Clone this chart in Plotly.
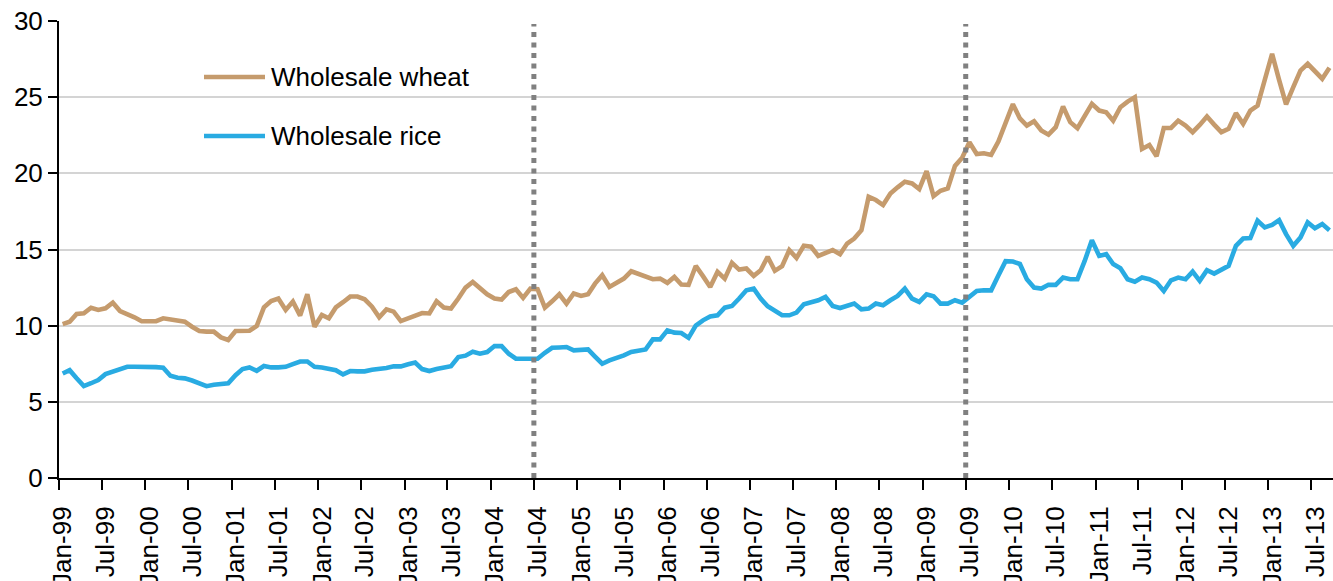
import pandas as pd
import plotly.graph_objects as go

# Monthly series, Jan-1999 .. Sep-2013
wheat = [
    10.10, 10.26, 10.77, 10.81, 11.18, 11.03, 11.14, 11.51, 10.96, 10.77, 10.55, 10.29,
    10.29, 10.30, 10.48, 10.42, 10.37, 10.26, 9.93, 9.65, 9.61, 9.61, 9.23, 9.06,
    9.65, 9.67, 9.67, 9.98, 11.20, 11.62, 11.78, 11.03, 11.58, 10.66, 12.06, 9.93,
    10.70, 10.48, 11.20, 11.54, 11.91, 11.91, 11.73, 11.25, 10.55, 11.07, 10.92, 10.30,
    10.47, 10.66, 10.83, 10.80, 11.60, 11.19, 11.13, 11.78, 12.50, 12.87, 12.43, 12.06,
    11.78, 11.71, 12.21, 12.39, 11.82, 12.43, 12.39, 11.18, 11.60, 12.06, 11.45, 12.11,
    11.95, 12.06, 12.76, 13.31, 12.54, 12.81, 13.09, 13.57, 13.38, 13.20, 13.05, 13.09,
    12.81, 13.20, 12.70, 12.68, 13.92, 13.25, 12.54, 13.53, 13.09, 14.12, 13.68, 13.75,
    13.27, 13.64, 14.52, 13.60, 13.90, 14.96, 14.45, 15.24, 15.18, 14.58, 14.74, 14.96,
    14.69, 15.39, 15.72, 16.27, 18.46, 18.25, 17.92, 18.68, 19.08, 19.45, 19.34, 18.97,
    20.15, 18.51, 18.86, 19.01, 20.48, 21.03, 22.04, 21.27, 21.32, 21.21, 22.08, 23.40,
    24.54, 23.60, 23.14, 23.42, 22.81, 22.54, 23.03, 24.39, 23.36, 22.96, 23.73, 24.56,
    24.12, 24.01, 23.46, 24.34, 24.71, 25.00, 21.60, 21.86, 21.12, 22.98, 22.98, 23.46,
    23.14, 22.70, 23.18, 23.73, 23.20, 22.70, 22.92, 23.95, 23.25, 24.12, 24.45, 26.10,
    27.85, 26.14, 24.52, 25.66, 26.75, 27.19, 26.71, 26.21, 26.93,
]

rice = [
    6.86, 7.08, 6.55, 6.03, 6.22, 6.43, 6.82, 7.00, 7.19, 7.30, 7.30, 7.30,
    7.35, 7.28, 7.24, 6.71, 6.58, 6.54, 6.40, 6.21, 6.03, 6.12, 6.14, 6.21,
    6.75, 7.15, 7.26, 7.04, 7.35, 7.26, 7.26, 7.30, 7.48, 7.65, 7.65, 7.30,
    7.25, 7.19, 7.08, 6.80, 7.02, 7.00, 7.00, 7.10, 7.15, 7.22, 7.33, 7.33,
    7.47, 7.58, 7.15, 7.02, 7.15, 7.25, 7.34, 7.94, 8.03, 8.29, 8.16, 8.27,
    8.66, 8.66, 8.16, 7.83, 7.85, 7.86, 7.83, 8.22, 8.55, 8.57, 8.60, 8.38,
    8.44, 8.44, 7.97, 7.50, 7.72, 7.87, 8.05, 8.27, 8.35, 8.44, 9.10, 9.10,
    9.69, 9.54, 9.52, 9.20, 10.00, 10.35, 10.60, 10.68, 11.18, 11.29, 11.78, 12.32,
    12.43, 11.78, 11.27, 11.01, 10.68, 10.68, 10.86, 11.40, 11.54, 11.67, 11.89, 11.29,
    11.16, 11.34, 11.45, 11.07, 11.12, 11.45, 11.34, 11.67, 11.95, 12.43, 11.78, 11.56,
    12.06, 11.93, 11.45, 11.45, 11.67, 11.51, 11.89, 12.28, 12.32, 12.32, 13.30, 14.23,
    14.21, 14.05, 13.05, 12.50, 12.43, 12.68, 12.68, 13.16, 13.05, 13.05, 14.25, 15.61,
    14.58, 14.69, 14.04, 13.77, 13.05, 12.89, 13.16, 13.05, 12.83, 12.28, 12.98, 13.16,
    13.05, 13.55, 12.94, 13.64, 13.42, 13.66, 13.93, 15.24, 15.72, 15.75, 16.89, 16.45,
    16.62, 16.93, 16.01, 15.24, 15.79, 16.78, 16.40, 16.67, 16.27,
]

series_names = ["Wholesale wheat", "Wholesale rice"]
series_colors = ["#C59B6D", "#29ABE2"]
event_dates = ["2004-07-01", "2009-07-01"]

months = pd.date_range("1999-01-01", periods=len(wheat), freq="MS")
tick_dates = pd.date_range("1999-01-01", "2013-07-01", freq="6MS")
tick_text = [d.strftime("%b-%y") for d in tick_dates]

FONT = "Liberation Sans, Arial, Helvetica, sans-serif"

W, H = 1333, 581
L, R, T, B = 59, 1333, 21, 478   # plot area in page px

fig = go.Figure()
for name, vals, col in zip(series_names, [wheat, rice], series_colors):
    fig.add_trace(go.Scatter(
        x=months, y=vals, name=name, mode="lines",
        xperiod="M1", xperiodalignment="middle",
        line=dict(color=col, width=4.6),
        showlegend=False,
    ))

for d in event_dates:
    fig.add_shape(type="line", xref="x", yref="y", x0=d, x1=d, y0=0, y1=29.8,
                  line=dict(color="#808080", width=5, dash="5px,5.5px"), layer="above")

def px_x(p):   # page px -> paper
    return (p - L) / (R - L)
def px_y(p):
    return (B - p) / (B - T)

for i, (name, col) in enumerate(zip(series_names, series_colors)):
    yy = [77, 136][i]
    fig.add_shape(type="line", xref="paper", yref="paper",
                  x0=px_x(204), x1=px_x(265), y0=px_y(yy), y1=px_y(yy),
                  line=dict(color=col, width=4.5))
    fig.add_annotation(xref="paper", yref="paper", x=px_x(269), y=px_y(yy),
                       text=name, showarrow=False, xanchor="left", yanchor="middle",
                       font=dict(family=FONT, size=26, color="black"))

fig.update_layout(
    width=W, height=H,
    margin=dict(l=L, r=W - R, t=T, b=H - B, autoexpand=False),
    paper_bgcolor="white", plot_bgcolor="white",
    font=dict(family=FONT, size=26, color="black"),
)
fig.update_xaxes(
    type="date", automargin=False,
    range=["1999-01-01", "2013-10-01"],
    tickvals=tick_dates, ticktext=tick_text, tickangle=-90,
    ticks="outside", ticklen=10, tickwidth=2, tickcolor="black",
    showline=True, linecolor="black", linewidth=2,
    showgrid=False, zeroline=False,
    ticklabelstandoff=6, ticklabelshift=4, ticklabeloverflow="allow",
    tickfont=dict(family=FONT, size=26, color="black"),
)
fig.update_yaxes(
    automargin=False,
    range=[0, 30], tick0=0, dtick=5,
    ticks="outside", ticklen=9, tickwidth=2, tickcolor="black",
    showline=True, linecolor="black", linewidth=2,
    showgrid=True, gridcolor="#D4D4D4", gridwidth=1.5, zeroline=False,
    ticklabeloverflow="allow",
    tickfont=dict(family=FONT, size=26, color="black"),
)

fig.write_html("out.html", config={"displayModeBar": False},
               post_script="document.body.style.margin='0';")
